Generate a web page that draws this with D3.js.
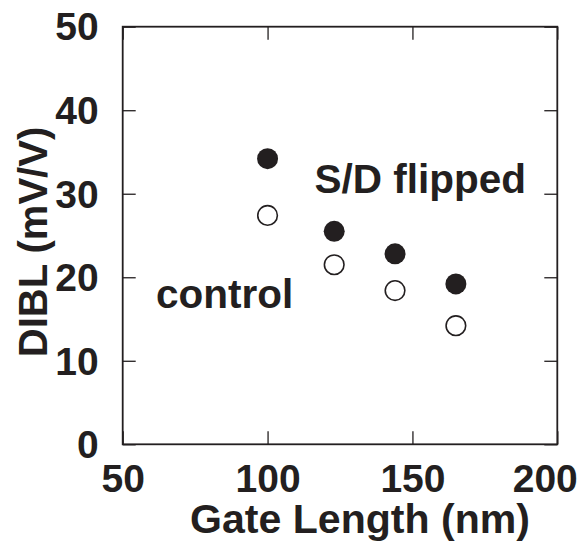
<!DOCTYPE html>
<html>
<head>
<meta charset="utf-8">
<script src="https://cdn.jsdelivr.net/npm/d3@7"></script>
<style>
  body { margin: 0; background: #fff; }
  text { font-family: "Liberation Sans", Arial, Helvetica, sans-serif; font-weight: bold; fill: #231f20; }
</style>
</head>
<body>
<div id="chart"></div>
<script>
// gate length (nm) and DIBL (mV/V)
var gateLength = [100, 123, 144, 165];
var flipped = [34.2, 25.5, 22.8, 19.2];
var control = [27.4, 21.5, 18.4, 14.2];
var xTicks = [50, 100, 150, 200];
var yTicks = [0, 10, 20, 30, 40, 50];

var ink = "#231f20";
var W = 584, H = 544;
var margin = {top: 26.7, right: 26.7, bottom: 99.7, left: 122.7};
var width = W - margin.left - margin.right,
    height = H - margin.top - margin.bottom;

var svg = d3.select("#chart").append("svg")
    .attr("width", W)
    .attr("height", H)
  .append("g")
    .attr("transform", "translate(" + margin.left + "," + margin.top + ")");

var x = d3.scaleLinear().domain([50, 200]).range([0, width]);
var y = d3.scaleLinear().domain([0, 50]).range([height, 0]);

var tickLen = 13;

// axes with inward ticks, labels only on left/bottom
function styleAxis(g) {
    g.select(".domain").remove();
    g.selectAll(".tick line").attr("stroke", ink).attr("stroke-width", 1.3);
}

var xAxisG = svg.append("g")
    .attr("transform", "translate(0," + height + ")")
    .call(d3.axisBottom(x).tickValues(xTicks).tickSize(-tickLen).tickPadding(20))
    .call(styleAxis);
xAxisG.selectAll("text").attr("font-size", 39).attr("fill", ink);
// last label is pulled in so it stays inside the picture
xAxisG.selectAll("text").filter(function(d) { return d === 200; })
    .attr("text-anchor", "end")
    .attr("x", 20);

svg.append("g")
    .call(d3.axisLeft(y).tickValues(yTicks).tickSize(-tickLen).tickPadding(24))
    .call(styleAxis)
    .selectAll("text").attr("font-size", 39).attr("fill", ink).attr("dy", "0.34em");

svg.append("g")
    .call(d3.axisTop(x).tickValues(xTicks).tickSize(-tickLen).tickFormat(""))
    .call(styleAxis);

svg.append("g")
    .attr("transform", "translate(" + width + ",0)")
    .call(d3.axisRight(y).tickValues(yTicks).tickSize(-tickLen).tickFormat(""))
    .call(styleAxis);

// frame
svg.append("rect")
    .attr("width", width)
    .attr("height", height)
    .attr("fill", "none")
    .attr("stroke", ink)
    .attr("stroke-width", 1.8);

// data points
svg.selectAll(".flipped")
    .data(gateLength)
  .enter().append("circle")
    .attr("class", "flipped")
    .attr("cx", function(d) { return x(d); })
    .attr("cy", function(d, i) { return y(flipped[i]); })
    .attr("r", 10.5)
    .attr("fill", ink);

svg.selectAll(".control")
    .data(gateLength)
  .enter().append("circle")
    .attr("class", "control")
    .attr("cx", function(d) { return x(d); })
    .attr("cy", function(d, i) { return y(control[i]); })
    .attr("r", 9.8)
    .attr("fill", "#fff")
    .attr("stroke", ink)
    .attr("stroke-width", 1.6);

// labels
svg.append("text")
    .attr("x", x(116.2))
    .attr("y", y(30.1))
    .attr("font-size", 40.5)
    .text("S/D flipped");

svg.append("text")
    .attr("x", x(61.5))
    .attr("y", y(16.3))
    .attr("font-size", 40.5)
    .text("control");

// axis titles
svg.append("text")
    .attr("x", 190 - margin.left)
    .attr("y", 533 - margin.top)
    .attr("font-size", 41)
    .attr("textLength", 340)
    .attr("lengthAdjust", "spacingAndGlyphs")
    .text("Gate Length (nm)");

svg.append("text")
    .attr("transform", "translate(" + (47 - margin.left) + "," + (242 - margin.top) + ") rotate(-90)")
    .attr("text-anchor", "middle")
    .attr("font-size", 40)
    .text("DIBL (mV/V)");
</script>
</body>
</html>
